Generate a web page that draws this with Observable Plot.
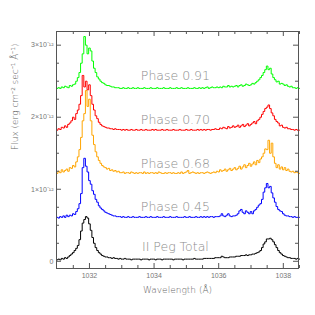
<!DOCTYPE html>
<html>
<head>
<meta charset="utf-8">
<script src="https://cdn.jsdelivr.net/npm/d3@7"></script>
<script src="https://cdn.jsdelivr.net/npm/@observablehq/plot@0.6"></script>
<style>
  html, body { margin: 0; padding: 0; background: white; }
  [aria-label="phase-label"], [aria-label="phase-label"] text { letter-spacing: 0.3px; }
</style>
</head>
<body>
<div id="chart"></div>
<script>
// Wavelength grid (Å): 1031.00 to 1038.50 in 0.05 Å bins
const waveStart = 1031.0;
const waveStep = 0.05;
const nBins = 151;

// Flux in units of 1e-12 erg cm^-2 s^-1 Å^-1 (offset spectra as plotted)
const fluxTotal = [
  0.02,0.03,0.02,0.04,0.03,0.05,0.04,0.06,0.08,0.10,
  0.12,0.15,0.18,0.22,0.30,0.42,0.53,0.58,0.62,0.60,
  0.52,0.43,0.33,0.25,0.19,0.15,0.12,0.10,0.08,0.07,
  0.06,0.06,0.05,0.05,0.04,0.05,0.04,0.04,0.03,0.04,
  0.03,0.03,0.04,0.03,0.03,0.03,0.02,0.03,0.03,0.03,
  0.03,0.03,0.02,0.03,0.03,0.03,0.03,0.02,0.03,0.03,
  0.03,0.02,0.03,0.03,0.03,0.02,0.03,0.03,0.03,0.03,
  0.03,0.03,0.02,0.03,0.03,0.03,0.03,0.03,0.02,0.03,
  0.03,0.03,0.03,0.03,0.03,0.04,0.03,0.03,0.03,0.03,
  0.03,0.04,0.04,0.04,0.04,0.04,0.04,0.04,0.05,0.05,
  0.05,0.05,0.07,0.06,0.05,0.05,0.05,0.06,0.06,0.06,
  0.06,0.07,0.07,0.07,0.08,0.08,0.08,0.09,0.08,0.09,
  0.09,0.10,0.10,0.11,0.12,0.13,0.15,0.19,0.24,0.27,
  0.31,0.31,0.32,0.30,0.27,0.23,0.19,0.15,0.12,0.10,
  0.08,0.07,0.06,0.05,0.05,0.04,0.04,0.04,0.03,0.04,0.03
];
const fluxPhase045 = [
  0.61,0.60,0.62,0.61,0.63,0.61,0.64,0.62,0.64,0.63,
  0.66,0.65,0.69,0.73,0.80,0.94,1.30,1.43,1.32,1.24,
  1.12,1.07,0.98,0.93,0.86,0.82,0.77,0.74,0.72,0.70,
  0.68,0.67,0.66,0.65,0.64,0.63,0.63,0.62,0.62,0.62,
  0.61,0.62,0.61,0.61,0.62,0.61,0.61,0.62,0.61,0.61,
  0.61,0.62,0.61,0.61,0.61,0.62,0.61,0.61,0.62,0.61,
  0.61,0.61,0.62,0.61,0.61,0.61,0.62,0.61,0.61,0.61,
  0.62,0.61,0.61,0.61,0.62,0.61,0.61,0.61,0.61,0.62,
  0.61,0.61,0.62,0.61,0.61,0.61,0.62,0.61,0.61,0.62,
  0.61,0.62,0.61,0.62,0.61,0.62,0.62,0.61,0.62,0.62,
  0.62,0.63,0.66,0.63,0.62,0.64,0.66,0.63,0.62,0.63,
  0.63,0.64,0.66,0.70,0.72,0.68,0.66,0.70,0.68,0.66,
  0.69,0.66,0.70,0.72,0.75,0.78,0.80,0.86,0.96,1.02,
  1.08,1.02,1.04,0.95,0.88,0.82,0.76,0.72,0.70,0.69,
  0.66,0.64,0.63,0.63,0.62,0.62,0.61,0.62,0.61,0.61,0.61
];
const fluxPhase068 = [
  1.22,1.25,1.23,1.27,1.24,1.26,1.28,1.25,1.30,1.29,
  1.33,1.31,1.38,1.45,1.55,1.72,1.95,2.05,2.37,2.15,
  2.25,1.95,1.75,1.62,1.52,1.45,1.40,1.36,1.33,1.31,
  1.30,1.28,1.29,1.26,1.27,1.25,1.26,1.24,1.25,1.23,
  1.23,1.24,1.22,1.23,1.23,1.22,1.24,1.23,1.22,1.23,
  1.22,1.23,1.23,1.22,1.24,1.22,1.23,1.22,1.23,1.23,
  1.22,1.23,1.22,1.24,1.23,1.22,1.22,1.23,1.22,1.23,
  1.23,1.22,1.23,1.22,1.22,1.23,1.22,1.24,1.22,1.23,
  1.24,1.26,1.22,1.23,1.24,1.23,1.22,1.23,1.22,1.23,
  1.23,1.22,1.23,1.24,1.23,1.22,1.23,1.24,1.23,1.25,
  1.24,1.27,1.25,1.26,1.28,1.25,1.27,1.29,1.26,1.28,
  1.30,1.27,1.29,1.32,1.28,1.31,1.34,1.30,1.33,1.36,
  1.32,1.35,1.38,1.34,1.40,1.37,1.42,1.45,1.50,1.56,
  1.55,1.68,1.50,1.64,1.45,1.36,1.30,1.34,1.28,1.31,
  1.27,1.30,1.26,1.28,1.25,1.24,1.25,1.23,1.24,1.23,1.22
];
const fluxPhase070 = [
  1.82,1.84,1.83,1.86,1.85,1.88,1.86,1.90,1.92,1.95,
  2.00,1.97,2.05,2.10,2.18,2.30,2.58,2.42,2.50,2.38,
  2.45,2.30,2.18,2.10,2.02,1.98,1.93,1.90,1.88,1.87,
  1.86,1.85,1.85,1.84,1.84,1.83,1.84,1.83,1.83,1.83,
  1.82,1.83,1.82,1.83,1.82,1.82,1.83,1.82,1.82,1.83,
  1.82,1.82,1.83,1.82,1.82,1.83,1.82,1.82,1.82,1.83,
  1.82,1.83,1.82,1.82,1.82,1.83,1.82,1.82,1.83,1.82,
  1.82,1.82,1.83,1.82,1.82,1.82,1.83,1.82,1.82,1.82,
  1.83,1.82,1.82,1.83,1.82,1.82,1.82,1.83,1.82,1.83,
  1.82,1.83,1.82,1.83,1.83,1.82,1.83,1.83,1.84,1.83,
  1.83,1.85,1.84,1.86,1.85,1.84,1.87,1.85,1.86,1.88,
  1.86,1.87,1.89,1.86,1.88,1.90,1.87,1.89,1.91,1.88,
  1.90,1.92,1.94,1.91,1.95,1.97,2.00,2.04,2.08,2.12,
  2.14,2.17,2.12,2.06,2.02,1.97,1.94,1.92,1.88,1.89,
  1.86,1.85,1.86,1.84,1.84,1.83,1.83,1.82,1.83,1.82,1.82
];
const fluxPhase091 = [
  2.40,2.41,2.40,2.42,2.41,2.43,2.42,2.41,2.44,2.43,
  2.45,2.46,2.50,2.55,2.62,2.75,2.88,3.12,3.00,2.88,
  2.96,2.92,2.78,2.68,2.62,2.56,2.53,2.50,2.48,2.47,
  2.45,2.44,2.44,2.43,2.42,2.42,2.41,2.41,2.41,2.40,
  2.40,2.41,2.40,2.40,2.41,2.40,2.40,2.41,2.40,2.40,
  2.41,2.40,2.40,2.40,2.41,2.40,2.40,2.40,2.41,2.40,
  2.40,2.40,2.41,2.40,2.40,2.40,2.41,2.40,2.40,2.40,
  2.41,2.40,2.40,2.40,2.41,2.40,2.40,2.41,2.40,2.40,
  2.40,2.41,2.40,2.40,2.40,2.41,2.40,2.40,2.41,2.40,
  2.41,2.40,2.41,2.42,2.40,2.41,2.42,2.41,2.41,2.42,
  2.41,2.42,2.41,2.43,2.42,2.42,2.44,2.42,2.43,2.42,
  2.43,2.44,2.42,2.44,2.45,2.43,2.44,2.46,2.45,2.44,
  2.45,2.47,2.46,2.48,2.50,2.52,2.55,2.58,2.62,2.66,
  2.71,2.66,2.68,2.60,2.55,2.52,2.49,2.50,2.46,2.47,
  2.46,2.44,2.45,2.43,2.42,2.43,2.41,2.41,2.40,2.41,2.40
];

const seriesNames = ["II Peg Total", "Phase 0.45", "Phase 0.68", "Phase 0.70", "Phase 0.91"];
const seriesColors = ["#000000", "#0000ff", "#ffa500", "#ff0000", "#00ff00"];
const seriesFlux = [fluxTotal, fluxPhase045, fluxPhase068, fluxPhase070, fluxPhase091];

const labelTexts = ["Phase 0.91", "Phase 0.70", "Phase 0.68", "Phase 0.45", "II Peg Total"];
const labelFlux = [2.57, 1.96, 1.35, 0.75, 0.20];
const labelWave = 1034.66;

const xMajorTicks = [1032, 1034, 1036, 1038];
const xMinorTicks = [1031.5, 1032.5, 1033, 1033.5, 1034.5, 1035, 1035.5, 1036.5, 1037, 1037.5, 1038.5];
const yMajorTicks = [0, 1, 2, 3];
const yMinorTicks = [0.25, 0.5, 0.75, 1.25, 1.5, 1.75, 2.25, 2.5, 2.75];
const yTickLabels = ["0", "1×10⁻¹²", "2×10⁻¹²", "3×10⁻¹²"];

const xTitle = "Wavelength (Å)";
const yTitle = "Flux (erg cm⁻² sec⁻¹ Å⁻¹)";

const wavelength = d3.range(nBins).map(i => +(waveStart + waveStep * i).toFixed(2));

const W = 315, H = 315, mL = 56, mR = 17, mT = 31, mB = 47;
const fw = W - mL - mR, fh = H - mT - mB;
const axisColor = "#555";
const thinFont = "'DejaVu Sans', sans-serif";

const lineMarks = seriesFlux.map((vals, k) =>
  Plot.line(wavelength.map((w, i) => ({w, f: vals[i]})), {
    x: "w", y: "f", stroke: seriesColors[k], strokeWidth: 1, curve: "step"
  })
);

const chart = Plot.plot({
  width: W, height: H,
  marginLeft: mL, marginRight: mR, marginTop: mT, marginBottom: mB,
  style: {fontFamily: "'Liberation Sans', Arial, sans-serif", fontSize: "7px", color: "#666", background: "white"},
  x: {domain: [1030.98, 1038.47]},
  y: {domain: [-0.1, 3.19]},
  marks: [
    ...lineMarks,
    Plot.text(labelTexts, {x: () => labelWave, y: (d, i) => labelFlux[i], text: d => d, fill: "#8c8c8c", fontSize: 12.5, fontFamily: thinFont, fontWeight: 200, textAnchor: "middle", ariaLabel: "phase-label"}),
    Plot.axisX({ticks: xMajorTicks, tickSize: 0, tickPadding: 5, tickFormat: d => String(d), label: null, fill: "#777"}),
    Plot.axisY({ticks: yMajorTicks, tickSize: 0, tickPadding: 3, tickFormat: (d, i) => yTickLabels[yMajorTicks.indexOf(d)], label: null, fill: "#777"}),
    // inward ticks on all four sides
    Plot.tickX(xMajorTicks, {x: d => d, insetTop: fh - 5, stroke: axisColor}),
    Plot.tickX(xMinorTicks, {x: d => d, insetTop: fh - 3, stroke: axisColor}),
    Plot.tickX(xMajorTicks, {x: d => d, insetBottom: fh - 5, stroke: axisColor}),
    Plot.tickX(xMinorTicks, {x: d => d, insetBottom: fh - 3, stroke: axisColor}),
    Plot.tickY(yMajorTicks, {y: d => d, insetRight: fw - 5, stroke: axisColor}),
    Plot.tickY(yMinorTicks, {y: d => d, insetRight: fw - 3, stroke: axisColor}),
    Plot.tickY(yMajorTicks, {y: d => d, insetLeft: fw - 5, stroke: axisColor}),
    Plot.tickY(yMinorTicks, {y: d => d, insetLeft: fw - 3, stroke: axisColor}),
    Plot.frame({stroke: axisColor, strokeWidth: 1}),
    Plot.text([xTitle], {frameAnchor: "bottom", dy: 22, text: d => d, fill: "#666", fontSize: 9, fontFamily: thinFont, fontWeight: 200, lineAnchor: "middle"}),
    Plot.text([yTitle], {frameAnchor: "left", dx: -41, rotate: -90, text: d => d, fill: "#666", fontSize: 9, fontFamily: thinFont, fontWeight: 200, lineAnchor: "middle"})
  ]
});
document.getElementById("chart").appendChild(chart);
</script>
</body>
</html>
